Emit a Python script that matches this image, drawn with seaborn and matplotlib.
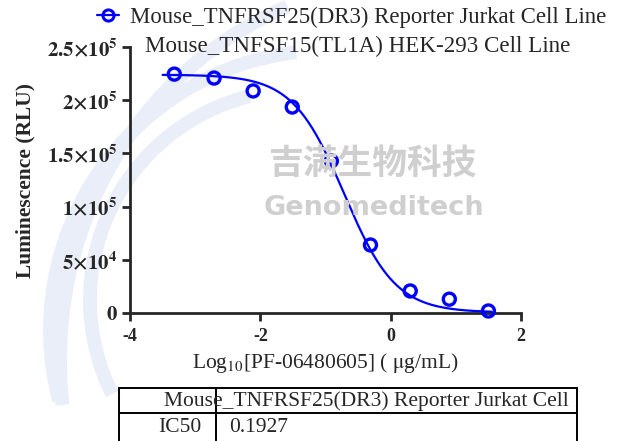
import numpy as np
import pandas as pd
import seaborn as sns
import matplotlib.pyplot as plt
from matplotlib.lines import Line2D
from matplotlib.patches import Arc, Rectangle

# Data
log_conc = [-3.32, -2.71, -2.11, -1.51, -0.91, -0.31, 0.30, 0.90, 1.50]
luminescence = [224500, 220800, 208700, 193600, 142900, 63900, 20700, 13000, 1900]

# 4PL fit parameters (IC50 = 0.1927 ug/mL)
fit_top = 224000
fit_bottom = 500
fit_ic50 = 0.1927
fit_hill = 1.1

legend_line1 = "Mouse_TNFRSF25(DR3) Reporter Jurkat Cell Line"
legend_line2 = "Mouse_TNFSF15(TL1A) HEK-293 Cell Line"
table_header = "Mouse_TNFRSF25(DR3) Reporter Jurkat Cell"
table_row = ["IC50", "0.1927"]

x_ticks = [-4, -2, 0, 2]
y_ticks = [0, 50000, 100000, 150000, 200000, 250000]
y_ticklabels = [r"$\mathbf{0}$", r"$\mathbf{5{\times}10^4}$", r"$\mathbf{1{\times}10^5}$",
                r"$\mathbf{1.5{\times}10^5}$", r"$\mathbf{2{\times}10^5}$", r"$\mathbf{2.5{\times}10^5}$"]

sns.set_style("ticks")
plt.rcParams["font.family"] = ["Liberation Serif", "DejaVu Serif"]
plt.rcParams["mathtext.fontset"] = "stix"

blue = "#0000ff"

fig = plt.figure(figsize=(6.17, 4.41), dpi=100)
W, H = 617, 441

def fx(px):
    return px / W

def fy(py):
    return 1 - py / H

# faint background watermark arcs
for (cx, cy, w, h, t1, t2) in [(330, 330, 560, 560, 95, 200), (300, 300, 420, 420, 100, 215),
                               (420, 360, 720, 760, 105, 190)]:
    arc = Arc((fx(cx), fy(cy)), w / W, h / H, theta1=t1, theta2=t2,
              transform=fig.transFigure, color="#e9eef9", lw=10, zorder=0)
    fig.add_artist(arc)

ax = fig.add_axes([fx(130), fy(313), fx(521) - fx(130), fy(47) - fy(313)])
ax.patch.set_alpha(0)

df = pd.DataFrame({"x": log_conc, "y": luminescence})
xs = np.linspace(-3.5, 1.55, 300)
curve = pd.DataFrame({
    "x": xs,
    "y": fit_bottom + (fit_top - fit_bottom) / (1 + 10 ** ((xs - np.log10(fit_ic50)) * fit_hill)),
})

sns.lineplot(data=curve, x="x", y="y", ax=ax, color=blue, lw=1.6, zorder=3)
sns.scatterplot(data=df, x="x", y="y", ax=ax, s=75, facecolor="none",
                edgecolor=blue, linewidth=2.4, zorder=4, clip_on=False)

ax.set_xlim(-4, 2)
ax.set_ylim(0, 250000)
ax.set_xticks(x_ticks)
ax.set_xticklabels([str(t) for t in x_ticks], fontweight="bold", fontsize=13)
ax.set_yticks(y_ticks)
ax.set_yticklabels(y_ticklabels, fontsize=15)
ax.tick_params(width=2, length=6, pad=3)
ax.tick_params(axis="x", pad=5)
for s in ["left", "bottom"]:
    ax.spines[s].set_linewidth(2)
sns.despine(ax=ax)

ax.set_xlabel(r"Log$_{10}$[PF-06480605] ( $\mathrm{\mu}$g/mL)", fontsize=15.5, labelpad=4)
ax.set_ylabel("Luminescence (RLU)", fontsize=15.5, fontweight="bold", labelpad=8)

# legend
handle = Line2D([], [], color=blue, lw=1.6, marker="o", markersize=8,
                markerfacecolor="none", markeredgewidth=2.2)
fig.legend([handle], [legend_line1], loc="center left", bbox_to_anchor=(fx(97), fy(17)),
           frameon=False, fontsize=16.4, handlelength=0.95, handletextpad=0.5,
           borderpad=0, borderaxespad=0)
fig.text(fx(145), fy(46), legend_line2, fontsize=16.6, va="center", ha="left")

# watermark text
fig.text(fx(373), fy(163), "吉满生物科技", family=["Noto Sans CJK SC"], fontsize=25,
         fontweight="bold", color="#cfcfcf", ha="center", va="center", zorder=1)
fig.text(fx(374), fy(208), "Genomeditech", family=["DejaVu Sans"], fontsize=19.5,
         fontweight="bold", color="#cfcfcf", ha="center", va="center", zorder=1)

# IC50 table
lw = 1.4
fig.add_artist(Rectangle((fx(119), fy(445)), fx(577) - fx(119), fy(388) - fy(445),
                         transform=fig.transFigure, fill=False, lw=lw, color="black"))
fig.add_artist(Line2D([fx(119), fx(577)], [fy(413), fy(413)], transform=fig.transFigure,
                      lw=lw, color="black"))
fig.add_artist(Line2D([fx(216), fx(216)], [fy(388), fy(445)], transform=fig.transFigure,
                      lw=lw, color="black"))
fig.text(fx(164), fy(401), table_header, fontsize=15.5, va="center", ha="left")
fig.text(fx(201), fy(428), table_row[0], fontsize=15.5, va="center", ha="right")
fig.text(fx(229), fy(428), table_row[1], fontsize=15.5, va="center", ha="left")

fig.savefig("out.png", dpi=100)
